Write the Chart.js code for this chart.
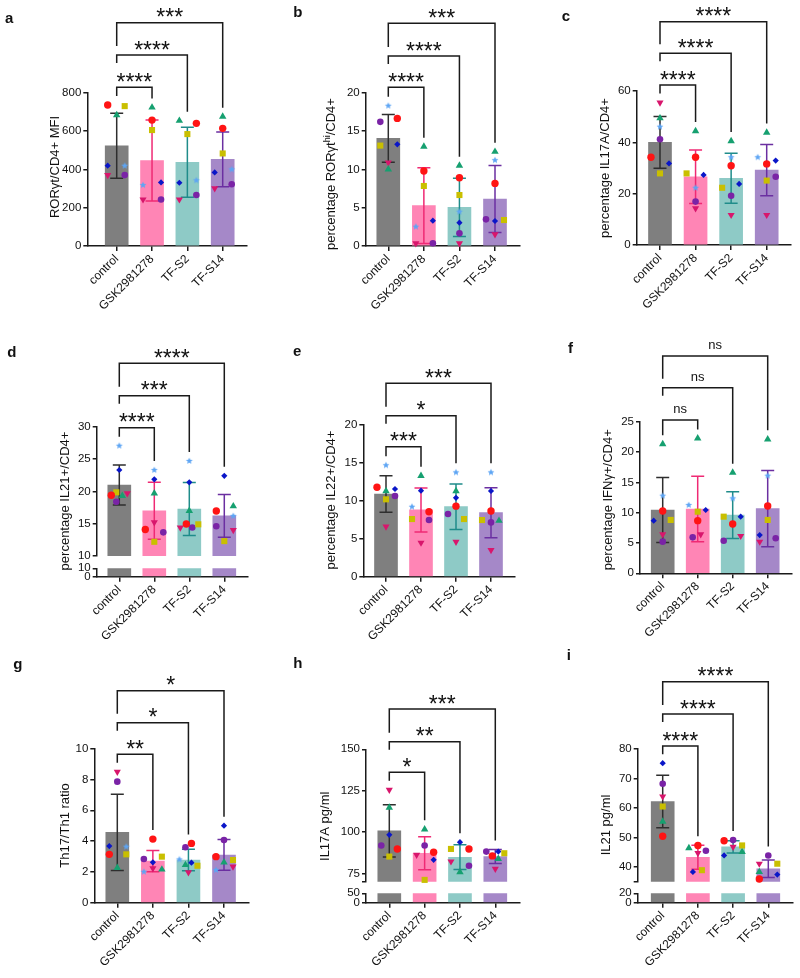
<!DOCTYPE html>
<html><head><meta charset="utf-8">
<script src="https://cdn.jsdelivr.net/npm/chart.js@4.4.1/dist/chart.umd.min.js"></script>
<style>
html,body{margin:0;padding:0;background:#fff;}
body{position:relative;width:800px;height:978px;overflow:hidden;font-family:"Liberation Sans",Arial,sans-serif;}
canvas{position:absolute;}
.plabel{position:absolute;font-weight:bold;font-size:15px;line-height:15px;color:#111;font-family:"Liberation Sans",Arial,sans-serif;}
</style></head><body>
<script>
// ---------------- DATA ----------------
const groups = ['control', 'GSK2981278', 'TF-S2', 'TF-S14'];
// marker order in each group: red circle, olive square, green triangle, blue diamond,
// light-blue star, crimson inverted triangle, purple circle
const markerNames = ['red circle', 'olive square', 'green triangle', 'blue diamond', 'light-blue star', 'crimson inverted triangle', 'purple circle'];

// a  RORγt/CD4+ MFI
const aMeans = [523, 446, 437, 452];
const aSD = [170, 211, 183, 143];
const aPoints = [[736, 730, 683, 419, 419, 370, 370], [657, 605, 723, 332, 318, 243, 243], [640, 584, 654, 330, 343, 243, 266], [614, 483, 675, 384, 400, 301, 322]];
const aTicks = [0, 200, 400, 600, 800];
const aSig = ['****', '****', '***'];

// b  percentage RORγt-hi/CD4+
const bMeans = [14.04, 5.26, 5.04, 6.13];
const bSD = [3.1, 4.95, 3.8, 4.36];
const bPoints = [[16.65, 13.1, 10.0, 13.26, 18.3, 10.9, 16.2], [9.78, 7.83, 12.96, 3.3, 2.52, 0.35, 0.35], [8.9, 6.65, 10.48, 3.04, 4.48, 0.35, 1.65], [8.17, 3.39, 12.3, 3.26, 11.2, 1.52, 3.48]];
const bTicks = [0, 5, 10, 15, 20];
const bSig = ['****', '****', '***'];

// c  percentage IL17A/CD4+
const cMeans = [40.0, 26.6, 26.0, 29.2];
const cSD = [10.1, 10.4, 9.75, 10.0];
const cPoints = [[34.2, 27.9, 49.4, 31.8, 46.1, 55.5, 41.2], [34.2, 27.9, 44.4, 27.3, 22.3, 14.3, 16.9], [30.9, 22.3, 40.5, 23.8, 34.2, 11.7, 19.2], [31.6, 25.1, 43.8, 32.9, 34.2, 11.7, 26.6]];
const cTicks = [0, 20, 40, 60];
const cSig = ['****', '****', '****'];

// d  percentage IL21+/CD4+  (broken axis)
const dMeans = [20.98, 17.0, 17.27, 16.2];
const dSD = [3.08, 4.4, 4.1, 3.3];
const dPoints = [[19.4, 19.85, 19.3, 23.3, 27.06, 19.7, 18.4], [14.1, 12.2, 19.7, 21.86, 23.3, 15.2, 13.66], [14.95, 14.9, 17.0, 21.4, 24.7, 14.4, 14.4], [16.96, 12.3, 17.7, 22.4, 16.2, 14.0, 14.6]];
const dTicks = [10, 15, 20, 25, 30];
const dLowTicks = [0, 10];
const dSig = ['****', '***', '****'];

// e  percentage IL22+/CD4+
const eMeans = [10.9, 8.8, 9.23, 8.44];
const eSD = [2.4, 2.9, 3.0, 3.3];
const ePoints = [[11.8, 10.2, 11.3, 11.56, 14.7, 6.6, 10.64], [8.57, 7.6, 13.3, 11.34, 9.23, 4.48, 7.47], [9.3, 7.6, 11.3, 10.4, 13.76, 4.6, 8.26], [8.66, 7.47, 7.38, 11.3, 13.76, 3.5, 7.16]];
const eTicks = [0, 5, 10, 15, 20];
const eSig = ['***', '*', '***'];

// f  percentage IFNγ+/CD4+
const fMeans = [10.44, 10.6, 9.6, 10.66];
const fSD = [5.37, 5.4, 3.85, 6.3];
const fPoints = [[10.27, 8.8, 21.3, 8.68, 12.8, 6.43, 5.22], [8.68, 10.16, 22.25, 10.44, 11.26, 6.43, 5.93], [8.13, 9.34, 16.6, 9.34, 12.36, 6.15, 5.38], [11.1, 8.8, 22.1, 6.3, 16.1, 5.2, 5.77]];
const fTicks = [0, 5, 10, 15, 20, 25];
const fSig = ['ns', 'ns', 'ns'];

// g  Th17/Th1 ratio
const gMeans = [4.57, 2.7, 2.77, 3.1];
const gSD = [2.48, 0.69, 0.7, 1.0];
const gPoints = [[3.14, 3.14, 2.27, 3.68, 3.64, 8.5, 7.86], [4.13, 2.99, 2.16, 2.62, 2.01, 2.23, 2.84], [3.85, 2.4, 2.45, 2.6, 2.81, 1.97, 3.6], [2.99, 2.77, 2.62, 5.0, 2.12, 2.34, 4.07]];
const gTicks = [0, 2, 4, 6, 8, 10];
const gSig = ['**', '*', '*'];

// h  IL17A pg/ml (broken axis, no star marker)
const hMeans = [100.7, 87.2, 84.8, 85.2];
const hSD = [15.8, 10.0, 7.5, 4.2];
const hPoints = [[89.8, 85.2, 114.8, 98.3, null, 125.5, 91.9], [87.8, 71.1, 101.7, 83.2, null, 86.2, 91.9], [89.8, 89.8, 75.8, 93.9, null, 82.2, 79.6], [85.6, 87.2, 83.8, 88.2, null, 77.8, 88.2]];
const hTicks = [75, 100, 125, 150];
const hLowTicks = [0, 50];
const hSig = ['*', '**', '***'];

// i  IL21 pg/ml (broken axis, no star marker)
const iMeans = [62.2, 43.3, 46.8, 39.4];
const iSD = [8.9, 4.1, 2.1, 2.95];
const iPoints = [[50.4, 60.5, 55.4, 75.2, null, 63.9, 68.2], [47.3, 38.9, 46.4, 38.3, null, 44.7, 45.5], [48.9, 47.3, 45.1, 43.9, null, 46.8, 49.1], [35.9, 41.1, 38.3, 37.4, null, 41.1, 43.9]];
const iTicks = [40, 50, 60, 70, 80];
const iLowTicks = [0, 20];
const iSig = ['****', '****', '****'];

// ---------------- STYLE / LAYOUT ----------------
const FONT = '"Liberation Sans", Arial, Helvetica, sans-serif';
const INK = '#1a1a1a';
const barColors = ['#7f7f7f', '#ff85b5', '#8ecac6', '#a588c8'];
const errColors = ['#2e2e2e', '#ef2a74', '#1f8c8a', '#6b2fa1'];

function makeStar(color, R) {
  const s = Math.ceil(R * 2 + 2);
  const c = document.createElement('canvas');
  c.width = s; c.height = s;
  const x = c.getContext('2d');
  x.fillStyle = color;
  x.beginPath();
  for (let k = 0; k < 10; k++) {
    const rr = k % 2 ? R * 0.45 : R;
    const a = -Math.PI / 2 + k * Math.PI / 5;
    x.lineTo(s / 2 + rr * Math.cos(a), s / 2 + rr * Math.sin(a));
  }
  x.closePath(); x.fill();
  return c;
}
const markerStyles = [
  {style: 'circle', color: '#ff1414', r: 3.7},
  {style: 'rect', color: '#c9bf00', r: 4.3},
  {style: 'triangle', color: '#16a070', r: 4.3},
  {style: 'rectRot', color: '#0a16c8', r: 3.1},
  {style: makeStar('#5da5f4', 3.6), color: '#5da5f4', r: 4},
  {style: 'triangle', rot: 180, color: '#d8166c', r: 4.1},
  {style: 'circle', color: '#7a23a6', r: 3.3}
];

// jitter (px) per group per marker
const layout = {
  a: {box: [0, 0, 268, 335], axisX: 87.3, top: 92.7, bottom: 246, right: 246.7, c0: 116.7, c3: 222.7, yMin: 0, yMax: 800,
      title: [55.5, 167], sigY: [87.3, 55, 22.7], letter: [5, 22.7],
      jit: [[-9, 8, 0, -9, 8, -9, 8], [0, 0, 0, 9, -9, -9, 9], [9, 0, -8, -8, 9, -8, 9], [0, 0, 0, -8, 9, -8, 9]]},
  b: {box: [268, 0, 268, 335], axisX: 365.7, top: 92.7, bottom: 246, right: 519.3, c0: 388.3, c3: 495, yMin: 0, yMax: 20,
      title: [331.7, 174], sigY: [87.3, 56, 23.3], letter: [293.3, 16.7],
      jit: [[9, -8, 0, 9, 0, 0, -8], [0, 0, 0, 9, -8, -8, 9], [0, 0, 0, 0, 0, 0, 0], [0, 9, 0, 0, 0, 0, -9]]},
  c: {box: [536, 0, 264, 335], axisX: 636.7, top: 91, bottom: 245, right: 791, c0: 660, c3: 766.7, yMin: 0, yMax: 60,
      title: [605, 168], sigY: [85, 53.3, 21.7], letter: [561.7, 20],
      jit: [[-9, 0, 0, 9, 0, 0, 0], [0, -9, 0, 8, 0, 0, 0], [0, -9, 0, 8, 0, 0, 0], [0, 0, 0, 9, -9, 0, 9]]},
  d: {box: [0, 320, 268, 335], axisX: 96.7, top: 426.7, bottom: 556, right: 248, c0: 119.3, c3: 224.3, yMin: 10, yMax: 30,
      low: {top: 568.3, bottom: 576.7, min: 0, max: 10},
      title: [65, 501], sigY: [427.7, 395.7, 363.3], letter: [7.3, 356],
      jit: [[-8, -3, 3, 0, 0, 8, -3], [-9, 0, 0, 0, 0, 0, 9], [-3, 9, 0, 0, 0, -9, 3], [-8, 0, 9, 0, 9, 9, -8]]},
  e: {box: [268, 320, 268, 335], axisX: 363.3, top: 425, bottom: 576.7, right: 515, c0: 386, c3: 491, yMin: 0, yMax: 20,
      title: [331.7, 500], sigY: [446.7, 415.7, 383.3], letter: [293, 355],
      jit: [[-9, 0, 0, 9, 0, 0, 9], [8, -9, 0, 0, -9, 0, 8], [0, 8, 0, 0, 0, 0, -8], [0, -9, 8, 0, 0, 0, 0]]},
  f: {box: [536, 320, 264, 335], axisX: 640, top: 421.7, bottom: 573.3, right: 791.7, c0: 662.7, c3: 767.7, yMin: 0, yMax: 25,
      title: [608.3, 499.7], sigY: [420, 387.7, 356], letter: [568, 352.7],
      jit: [[0, 8, 0, -9, 0, 0, 0], [0, 0, 0, 8, -9, 3, -5], [0, -9, 0, 8, 0, 8, -9], [0, 0, 0, -8, 0, -8, 8]]},
  g: {box: [0, 640, 268, 338], axisX: 94.3, top: 748.7, bottom: 902.7, right: 248.3, c0: 117.3, c3: 224, yMin: 0, yMax: 10,
      title: [65, 825.5], sigY: [754.3, 722.7, 690.7], letter: [13.3, 668],
      jit: [[-8, 9, 0, -8, 9, 0, 0], [0, 9, 9, 0, -9, 0, -9], [3, 9, -3, 3, -9, 0, -3], [-8, 9, 0, 0, -8, 9, 0]]},
  h: {box: [268, 640, 268, 338], axisX: 366, top: 749.3, bottom: 881.7, right: 519.3, c0: 389.3, c3: 495.3, yMin: 70, yMax: 150,
      low: {top: 893.3, bottom: 902.7, min: 0, max: 50},
      title: [325, 826.3], sigY: [772.3, 741.7, 709], letter: [293.3, 667.3],
      jit: [[8, 0, 0, 0, 0, 0, -8], [9, 0, 0, 9, 0, -8, 0], [9, -9, 0, 0, 0, -9, 9], [-3, 9, 3, 3, 0, 0, -9]]},
  i: {box: [536, 640, 264, 338], axisX: 637.7, top: 749, bottom: 881.7, right: 792.3, c0: 662.7, c3: 768.3, yMin: 35, yMax: 80,
      low: {top: 893.3, bottom: 902.7, min: 0, max: 20},
      title: [606.7, 825], sigY: [746, 714, 681.7], letter: [566.7, 659.3],
      jit: [[0, 0, 0, 0, 0, 0, 0], [0, 4, -9, -5, 0, 0, 8], [-9, 9, 9, -9, 0, 0, 0], [-9, 9, -9, 9, 0, -9, 0]]}
};

const panels = [
  {key: 'a', means: aMeans, sd: aSD, pts: aPoints, ticks: aTicks, sig: aSig, title: [{text: 'RORγt/CD4+ MFI'}]},
  {key: 'b', means: bMeans, sd: bSD, pts: bPoints, ticks: bTicks, sig: bSig, title: [{text: 'percentage RORγt'}, {text: 'hi', sup: true}, {text: '/CD4+'}]},
  {key: 'c', means: cMeans, sd: cSD, pts: cPoints, ticks: cTicks, sig: cSig, title: [{text: 'percentage IL17A/CD4+'}]},
  {key: 'd', means: dMeans, sd: dSD, pts: dPoints, ticks: dTicks, lowTicks: dLowTicks, sig: dSig, title: [{text: 'percentage IL21+/CD4+'}]},
  {key: 'e', means: eMeans, sd: eSD, pts: ePoints, ticks: eTicks, sig: eSig, title: [{text: 'percentage IL22+/CD4+'}]},
  {key: 'f', means: fMeans, sd: fSD, pts: fPoints, ticks: fTicks, sig: fSig, title: [{text: 'percentage IFNγ+/CD4+'}]},
  {key: 'g', means: gMeans, sd: gSD, pts: gPoints, ticks: gTicks, sig: gSig, title: [{text: 'Th17/Th1 ratio'}]},
  {key: 'h', means: hMeans, sd: hSD, pts: hPoints, ticks: hTicks, lowTicks: hLowTicks, sig: hSig, title: [{text: 'IL17A pg/ml'}]},
  {key: 'i', means: iMeans, sd: iSD, pts: iPoints, ticks: iTicks, lowTicks: iLowTicks, sig: iSig, title: [{text: 'IL21 pg/ml'}]}
];

// ---------------- PLUGINS ----------------
const errPlugin = p => ({
  id: 'err',
  afterDatasetDraw(chart, args) {
    if (args.index !== 0) return;
    const ctx = chart.ctx, x = chart.scales.x, y = chart.scales.y;
    ctx.save();
    ctx.lineWidth = 1.5;
    p.means.forEach((m, i) => {
      const cx = x.getPixelForValue(i);
      const t = y.getPixelForValue(m + p.sd[i]);
      const b = y.getPixelForValue(m - p.sd[i]);
      ctx.strokeStyle = errColors[i];
      ctx.beginPath();
      ctx.moveTo(cx, t); ctx.lineTo(cx, b);
      ctx.moveTo(cx - 6.5, t); ctx.lineTo(cx + 6.5, t);
      ctx.moveTo(cx - 6.5, b); ctx.lineTo(cx + 6.5, b);
      ctx.stroke();
    });
    ctx.restore();
  }
});

const sigPlugin = (p, L) => ({
  id: 'sig',
  afterDraw(chart) {
    const ctx = chart.ctx, x = chart.scales.x, y = chart.scales.y;
    const by = L.box[1];
    const gMax = g => Math.max(...p.pts[g].filter(v => v != null), p.means[g] + p.sd[g]);
    const x0 = x.getPixelForValue(0);
    const ly = L.sigY.map(v => v - by);
    ctx.save();
    ctx.strokeStyle = INK; ctx.lineWidth = 1.5; ctx.fillStyle = '#111';
    ctx.textAlign = 'center'; ctx.textBaseline = 'alphabetic';
    ly.forEach((yy, j) => {
      const xg = x.getPixelForValue(j + 1);
      const rEnd = y.getPixelForValue(gMax(j + 1)) - 9;
      const lEnd = j === 0 ? y.getPixelForValue(gMax(0)) - 9 : (j === 1 ? yy + 8 : ly[1] - 9);
      ctx.beginPath();
      ctx.moveTo(x0, lEnd); ctx.lineTo(x0, yy); ctx.lineTo(xg, yy); ctx.lineTo(xg, rEnd);
      ctx.stroke();
      const s = p.sig[j], mid = (x0 + xg) / 2;
      if (s === 'ns') { ctx.font = '13px ' + FONT; ctx.fillText(s, mid, yy - 7); }
      else { ctx.font = '23px ' + FONT; ctx.fillText(s, mid, yy + 2.5); }
    });
    ctx.restore();
  }
});

const titlePlugin = (p, L) => ({
  id: 'ytitle',
  afterDraw(chart) {
    const ctx = chart.ctx;
    ctx.save();
    ctx.translate(L.title[0] - L.box[0], L.title[1] - L.box[1]);
    ctx.rotate(-Math.PI / 2);
    ctx.fillStyle = '#111'; ctx.textBaseline = 'middle'; ctx.textAlign = 'left';
    const main = '13px ' + FONT, sup = '9px ' + FONT;
    let total = 0;
    const parts = p.title.map(t => { ctx.font = t.sup ? sup : main; const w = ctx.measureText(t.text).width; total += w; return {t, w}; });
    let px = -total / 2;
    parts.forEach(({t, w}) => { ctx.font = t.sup ? sup : main; ctx.fillText(t.text, px, t.sup ? -4 : 0); px += w; });
    ctx.restore();
  }
});

// ---------------- BUILD ----------------
Chart.defaults.font.family = FONT;
function mkCanvas(left, top, w, h) {
  const c = document.createElement('canvas');
  c.width = w; c.height = h;
  c.style.left = left + 'px'; c.style.top = top + 'px';
  c.style.width = w + 'px'; c.style.height = h + 'px';
  document.body.appendChild(c);
  return c;
}

function build(p) {
  const L = layout[p.key];
  const [bx, by, bw, bh] = L.box;
  const ppu = (L.c3 - L.c0) / 3;
  const xMin = -(L.c0 - L.axisX) / ppu;
  const xMax = 3 + (L.right - L.c3) / ppu;
  const yW = L.axisX - bx;

  const mkY = (min, max, ticks) => {
    const tv = ticks[0] === min ? ticks.slice() : [min].concat(ticks);
    return {
      type: 'linear', min, max,
      afterBuildTicks: s => { s.ticks = tv.map(v => ({value: v})); },
      afterFit: s => { s.width = yW; },
      ticks: {autoSkip: false, color: '#111', padding: 2, font: {family: FONT, size: 11.5},
              callback: v => ticks.includes(v) ? String(v) : ''},
      grid: {display: true, drawOnChartArea: false, drawTicks: true, tickLength: 4, color: INK, lineWidth: 1.5},
      border: {display: true, color: INK, width: 1.5}
    };
  };
  const mkX = (show, axisY) => ({
    type: 'linear', offset: false, min: xMin, max: xMax, display: show,
    afterBuildTicks: s => { s.ticks = groups.map((_, i) => ({value: i})); },
    afterFit: s => { s.height = by + bh - axisY; },
    ticks: {autoSkip: false, minRotation: 45, maxRotation: 45, color: '#111', padding: 1,
            font: {family: FONT, size: 12}, callback: v => groups[v]},
    grid: {display: true, offset: false, drawOnChartArea: false, drawTicks: true, tickLength: 5, color: INK, lineWidth: 1.5},
    border: {display: true, color: INK, width: 1.5}
  });
  const barDS = () => ({
    type: 'bar', label: 'mean', data: p.means.map((m, i) => ({x: i, y: m})),
    backgroundColor: barColors, barThickness: 23, borderWidth: 0, order: 2, clip: 0
  });
  const ptDS = markerStyles.map((m, k) => ({
    type: 'scatter', label: markerNames[k],
    data: p.pts.map((g, gi) => g[k] == null ? null : {x: gi + L.jit[gi][k] / ppu, y: g[k]}).filter(d => d),
    pointStyle: m.style, pointRadius: m.r, pointRotation: m.rot || 0,
    backgroundColor: m.color, borderColor: m.color, borderWidth: 0, order: 1, clip: false
  }));
  const common = {responsive: false, animation: false, events: [], devicePixelRatio: 1,
                  plugins: {legend: {display: false}, tooltip: {enabled: false}}};

  const c1 = mkCanvas(bx, by, bw, bh);
  new Chart(c1, {
    type: 'scatter',
    data: {datasets: [barDS()].concat(ptDS)},
    options: Object.assign({}, common, {
      layout: {padding: {top: L.top - by, left: 0, right: bx + bw - L.right, bottom: 0}},
      scales: {x: mkX(!L.low, L.bottom), y: mkY(L.yMin, L.yMax, p.ticks)}
    }),
    plugins: [errPlugin(p), sigPlugin(p, L), titlePlugin(p, L)]
  });

  if (L.low) {
    const ct = Math.floor(L.low.top - 10);
    const c2 = mkCanvas(bx, ct, bw, by + bh - ct);
    new Chart(c2, {
      type: 'scatter',
      data: {datasets: [barDS()]},
      options: Object.assign({}, common, {
        layout: {padding: {top: L.low.top - ct, left: 0, right: bx + bw - L.right, bottom: 0}},
        scales: {x: mkX(true, L.low.bottom), y: mkY(L.low.min, L.low.max, p.lowTicks)}
      })
    });
  }

  const lab = document.createElement('div');
  lab.className = 'plabel';
  lab.textContent = p.key;
  lab.style.left = L.letter[0] + 'px';
  lab.style.top = (L.letter[1] - 12.5) + 'px';
  document.body.appendChild(lab);
}

panels.forEach(build);
</script>
</body></html>
